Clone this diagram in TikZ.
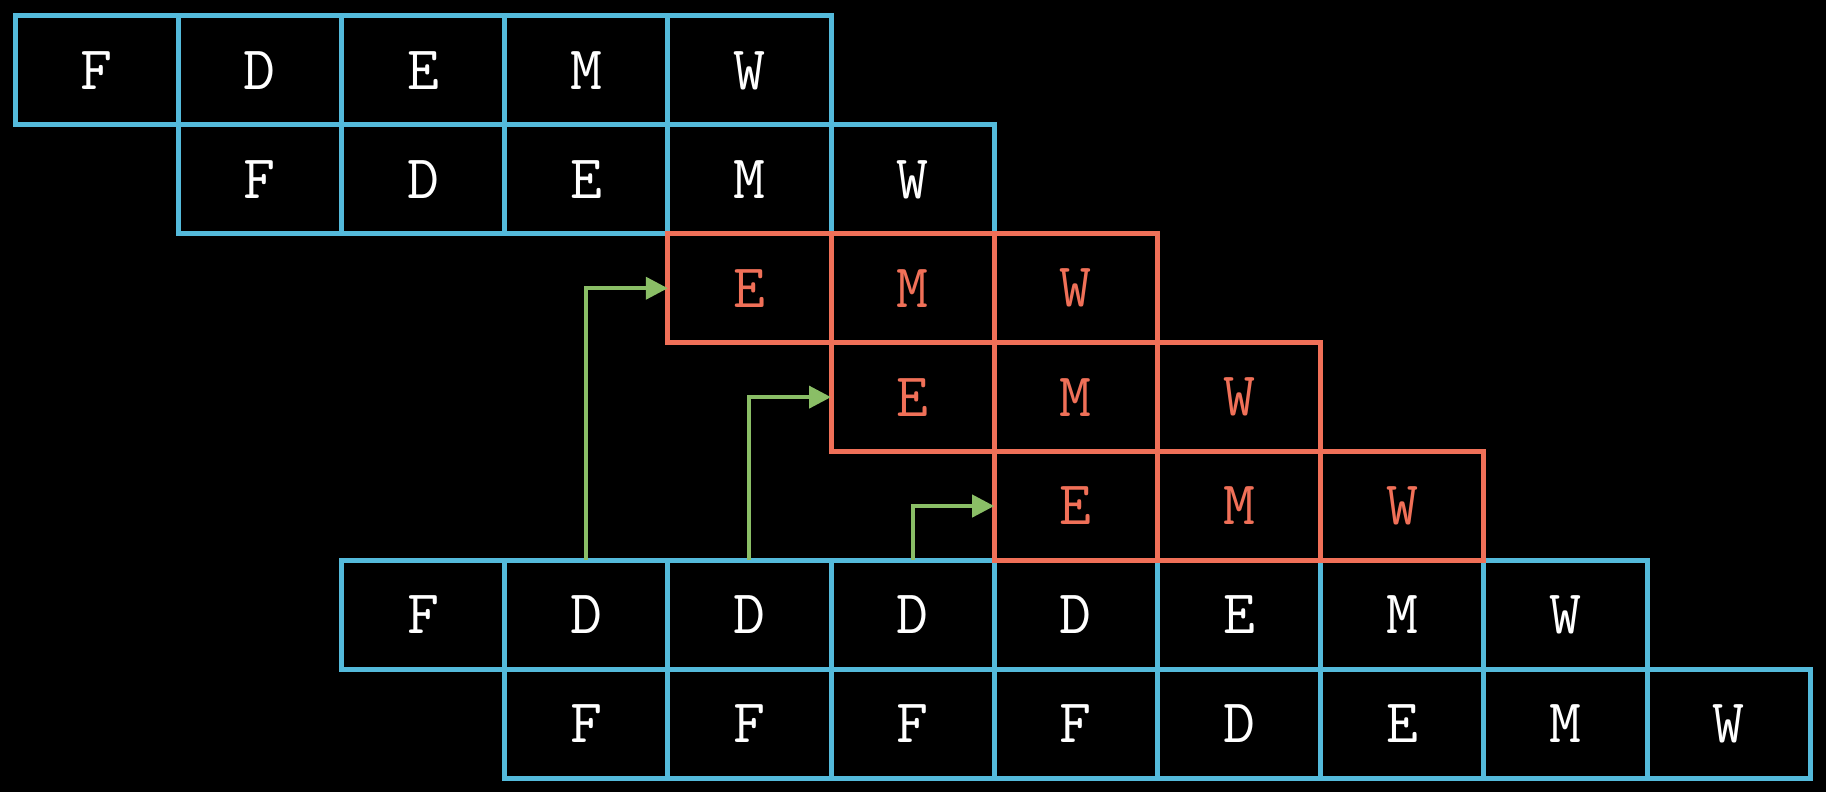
\documentclass[tikz,border=0pt]{standalone}
\usetikzlibrary{arrows.meta}
\definecolor{cblue}{RGB}{84,186,219}
\definecolor{cred}{RGB}{240,112,88}
\definecolor{cgreen}{RGB}{138,190,102}
\begin{document}
\begin{tikzpicture}[x=1pt,y=1pt,
  cell/.style={draw, line width=5pt, minimum width=163.2pt, minimum height=108.9pt,
    inner sep=0pt, outer sep=0pt, font=\fontsize{62}{62}\selectfont\ttfamily},
  bcell/.style={cell, draw=cblue, text=white},
  rcell/.style={cell, draw=cred, text=cred},
  link/.style={draw=cgreen, line width=4pt, -{Triangle[length=22pt,width=22pt]}}]
\fill[black] (0,0) rectangle (1826,792);
\useasboundingbox (0,0) rectangle (1826,792);
% row, start column, style, letters
\foreach \r/\s/\sty/\letters in {0/0/bcell/{F,D,E,M,W},1/1/bcell/{F,D,E,M,W},5/2/bcell/{F,D,D,D,D,E,M,W},6/3/bcell/{F,F,F,F,D,E,M,W},2/4/rcell/{E,M,W},3/5/rcell/{E,M,W},4/6/rcell/{E,M,W}}{
  \foreach \lbl [count=\k] in \letters {
    \pgfmathtruncatemacro\c{\k-1+\s}
    \node[\sty] (r\r c\c) at ({15+163.2*(\c+0.5)},{776-108.9*(\r+0.5)}) {\lbl};
  }
}
\draw[link] (r5c3.north) |- (r2c4.west);
\draw[link] (r5c4.north) |- (r3c5.west);
\draw[link] (r5c5.north) |- (r4c6.west);
\end{tikzpicture}
\end{document}
